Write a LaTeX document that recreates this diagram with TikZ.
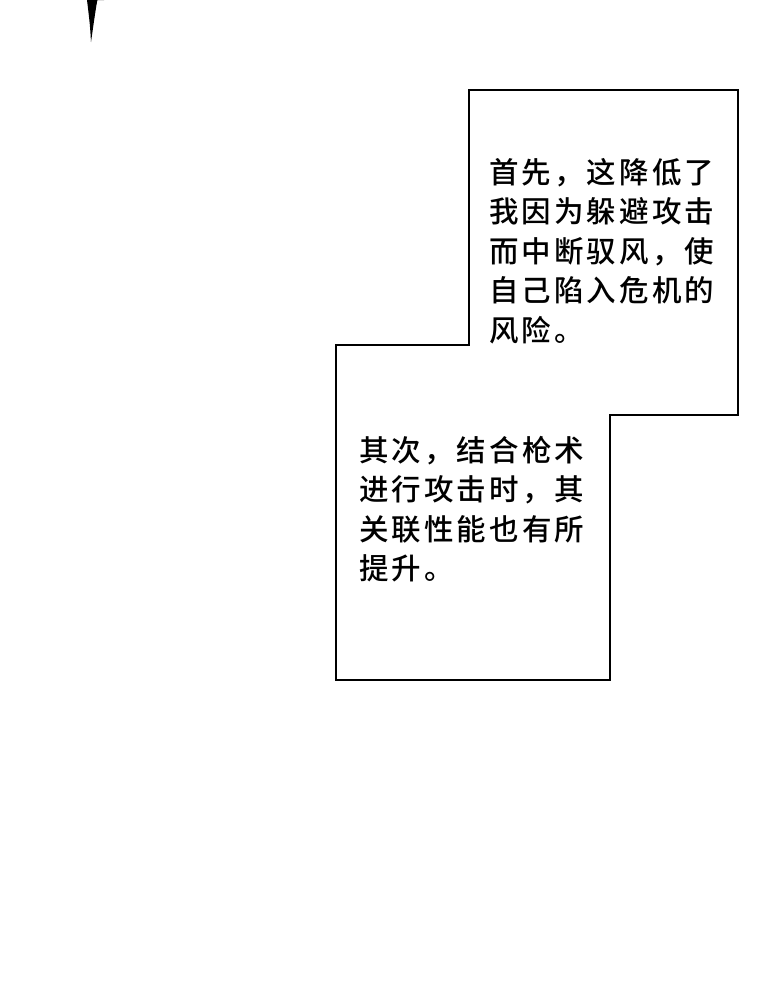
\documentclass[tikz,border=0pt]{standalone}
\usepackage{fontspec}
\newfontfamily\cjk[UprightFont={* Medium}, LetterSpace=10.5]{Noto Sans CJK SC}
\usepackage{tikz}

\begin{document}
\begin{tikzpicture}[x=1pt,y=-1pt,
		speech/.style={anchor=base west, inner sep=0pt, align=left,
			font={\fontsize{29.5}{39.6}\selectfont\cjk}}]
			\useasboundingbox (0,0) rectangle (760,993);
			\fill (87,0) -- (104,0) .. controls (99,-14) .. (91,42) .. controls (90,25) .. cycle;
			\draw[line width=2pt, line join=miter] (469,90) -- (738,90) -- (738,415) -- (610,415)
				-- (610,680) -- (336,680) -- (336,345) -- (469,345) -- cycle;
			\draw (489,341.4) node[speech] (first) {首先，这降低了\\我因为躲避攻击\\而中断驭风，使\\自己陷入危机的\\风险。};
			\draw (359,579.8) node[speech] (second) {其次，结合枪术\\进行攻击时，其\\关联性能也有所\\提升。};
		\end{tikzpicture}
\end{document}
